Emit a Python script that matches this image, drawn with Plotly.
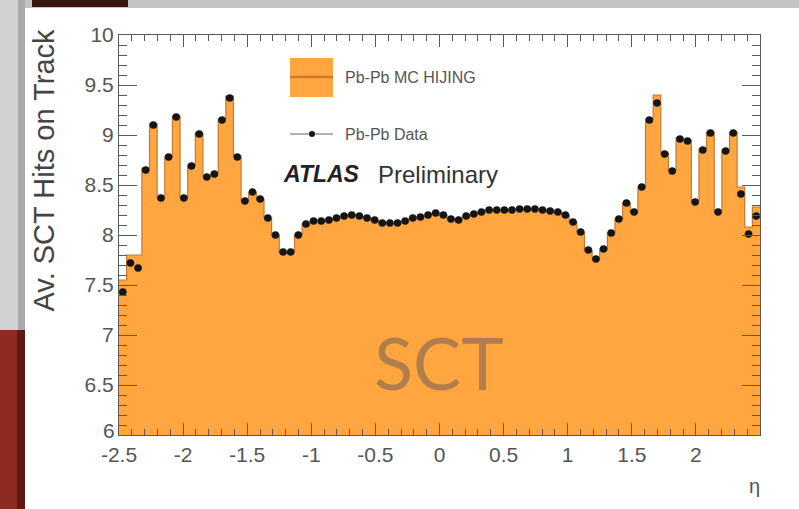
import numpy as np
import plotly.graph_objects as go

# ---------------- data ----------------
eta_min, eta_max, n_bins = -2.5, 2.5, 84

data_hits = [7.43, 7.72, 7.67, 8.65, 9.10, 8.37, 8.78, 9.18, 8.37, 8.69,
             9.01, 8.58, 8.61, 9.15, 9.37, 8.78, 8.34, 8.43, 8.36, 8.17,
             8.00, 7.83, 7.83, 8.00, 8.11, 8.14, 8.14, 8.15, 8.17, 8.19,
             8.20, 8.19, 8.17, 8.15, 8.12, 8.12, 8.12, 8.14, 8.17, 8.18,
             8.20, 8.22, 8.20, 8.16, 8.15, 8.19, 8.21, 8.23, 8.25, 8.25,
             8.25, 8.25, 8.26, 8.26, 8.26, 8.25, 8.24, 8.23, 8.20, 8.13,
             8.03, 7.85, 7.76, 7.86, 8.02, 8.16, 8.32, 8.23, 8.48, 9.15,
             9.32, 8.81, 8.64, 8.96, 8.94, 8.33, 8.85, 9.02, 8.23, 8.84,
             9.02, 8.41, 8.01, 8.19]

mc_hits = [7.55, 7.80, 7.80, 8.67, 9.11, 8.37, 8.78, 9.19, 8.37, 8.70,
           9.02, 8.58, 8.61, 9.16, 9.39, 8.79, 8.34, 8.43, 8.36, 8.17,
           8.00, 7.83, 7.83, 8.00, 8.11, 8.14, 8.14, 8.15, 8.17, 8.19,
           8.20, 8.19, 8.17, 8.15, 8.12, 8.12, 8.12, 8.14, 8.17, 8.18,
           8.20, 8.22, 8.20, 8.16, 8.15, 8.19, 8.21, 8.23, 8.25, 8.25,
           8.25, 8.25, 8.26, 8.26, 8.26, 8.25, 8.24, 8.23, 8.20, 8.13,
           8.03, 7.85, 7.76, 7.86, 8.02, 8.16, 8.32, 8.23, 8.48, 9.16,
           9.40, 8.82, 8.65, 8.97, 8.95, 8.34, 8.86, 9.03, 8.24, 8.85,
           9.03, 8.48, 8.08, 8.28]

x_tick_vals = [-2.5, -2, -1.5, -1, -0.5, 0, 0.5, 1, 1.5, 2]
x_tick_text = ["-2.5", "-2", "-1.5", "-1", "-0.5", "0", "0.5", "1", "1.5", "2"]
y_tick_vals = [6, 6.5, 7, 7.5, 8, 8.5, 9, 9.5, 10]
y_tick_text = ["", "6.5", "7", "7.5", "8", "8.5", "9", "9.5", "10"]
y_bottom_label = "6"

# ---------------- geometry ----------------
W, H = 799, 509
ML, MR, MT, MB = 119, 39, 35, 74
PW, PH = W - ML - MR, H - MT - MB


def px(xp):
    return (xp - ML) / PW


def py(yp):
    return (H - MB - yp) / PH


edges = np.linspace(eta_min, eta_max, n_bins + 1)
centers = 0.5 * (edges[:-1] + edges[1:])
half_w = np.full(n_bins, 0.5 * (edges[1] - edges[0]))

ORANGE = "#FFA641"
ORANGE_LINE = "#C8782C"
FONT = "Liberation Sans, Arial, sans-serif"

fig = go.Figure()

fig.add_trace(go.Scatter(
    x=edges, y=list(mc_hits) + [mc_hits[-1]],
    mode="lines", line=dict(shape="hv", color=ORANGE_LINE, width=1.2),
    fill="tozeroy", fillcolor=ORANGE, hoverinfo="skip", showlegend=False))

fig.add_trace(go.Scatter(
    x=centers, y=data_hits, mode="markers",
    marker=dict(color="#151515", size=7.5, symbol="circle"),
    error_x=dict(type="data", array=half_w, color="#333333", thickness=1, width=0),
    showlegend=False))

axis_common = dict(
    showline=True, linecolor="#5a5a5a", linewidth=1, mirror="allticks",
    ticks="inside", tickcolor="#5a5a5a", showgrid=False, zeroline=False,
    tickfont=dict(family=FONT, size=21, color="#555555"),
)

fig.update_xaxes(range=[eta_min, eta_max], tickvals=x_tick_vals, ticktext=x_tick_text,
                 ticklen=12, ticklabelstandoff=1,
                 minor=dict(ticks="inside", ticklen=6, dtick=0.1, tick0=-2.5, tickcolor="#5a5a5a"),
                 **axis_common)
fig.update_yaxes(range=[6, 10], tickvals=y_tick_vals, ticktext=y_tick_text,
                 ticklen=18, ticklabelstandoff=0,
                 minor=dict(ticks="inside", ticklen=8, dtick=0.1, tick0=6, tickcolor="#5a5a5a"),
                 **axis_common)

shapes = []
# slide decorations (outside plot)
shapes.append(dict(type="rect", xref="paper", yref="paper", x0=px(0), x1=px(W), y0=py(8), y1=py(0),
                   fillcolor="#C4C4C4", line=dict(width=0), layer="below"))
shapes.append(dict(type="rect", xref="paper", yref="paper", x0=px(32), x1=px(128), y0=py(7), y1=py(0),
                   fillcolor="#3B1612", line=dict(width=0), layer="below"))
shapes.append(dict(type="rect", xref="paper", yref="paper", x0=px(0), x1=px(25), y0=py(330), y1=py(0),
                   fillcolor="#D2D2D2", line=dict(width=0), layer="below"))
shapes.append(dict(type="rect", xref="paper", yref="paper", x0=px(18), x1=px(25), y0=py(330), y1=py(0),
                   fillcolor="#A9A9A9", line=dict(width=0), layer="below"))
shapes.append(dict(type="rect", xref="paper", yref="paper", x0=px(0), x1=px(25), y0=py(H), y1=py(330),
                   fillcolor="#8E2B20", line=dict(width=0), layer="below"))
shapes.append(dict(type="rect", xref="paper", yref="paper", x0=px(17), x1=px(25), y0=py(H), y1=py(330),
                   fillcolor="#5C1A13", line=dict(width=0), layer="below"))
# legend symbols
shapes.append(dict(type="rect", xref="paper", yref="paper", x0=px(290), x1=px(333), y0=py(97), y1=py(58),
                   fillcolor=ORANGE, line=dict(width=0)))
shapes.append(dict(type="line", xref="paper", yref="paper", x0=px(290), x1=px(333), y0=py(77), y1=py(77),
                   line=dict(color="#D07A22", width=2.5)))
shapes.append(dict(type="line", xref="paper", yref="paper", x0=px(290), x1=px(333), y0=py(134), y1=py(134),
                   line=dict(color="#999999", width=1.5)))
shapes.append(dict(type="circle", xref="paper", yref="paper", x0=px(309), x1=px(315), y0=py(137), y1=py(131),
                   fillcolor="#151515", line=dict(width=0)))

annotations = [
    dict(text="Pb-Pb MC HIJING", x=px(343), y=py(77), xref="paper", yref="paper",
         xanchor="left", yanchor="middle", showarrow=False,
         font=dict(family=FONT, size=16, color="#555555")),
    dict(text="Pb-Pb Data", x=px(343), y=py(134), xref="paper", yref="paper",
         xanchor="left", yanchor="middle", showarrow=False,
         font=dict(family=FONT, size=16, color="#555555")),
    dict(text="<b><i>ATLAS</i></b>", x=px(281), y=py(174), xref="paper", yref="paper",
         xanchor="left", yanchor="middle", showarrow=False,
         font=dict(family=FONT, size=23, color="#222222")),
    dict(text="Preliminary", x=px(376), y=py(174), xref="paper", yref="paper",
         xanchor="left", yanchor="middle", showarrow=False,
         font=dict(family=FONT, size=24, color="#333333")),
    dict(text="Av. SCT Hits on Track", x=px(43), y=py(27), xref="paper", yref="paper",
         xanchor="center", yanchor="top", textangle=-90, showarrow=False,
         font=dict(family=FONT, size=29, color="#444444")),
    dict(text="η", x=px(754), y=py(486), xref="paper", yref="paper",
         xanchor="center", yanchor="middle", showarrow=False,
         font=dict(family=FONT, size=20, color="#555555")),
    dict(text="SCT", x=px(439), y=py(362), xref="paper", yref="paper",
         xanchor="center", yanchor="middle", showarrow=False,
         font=dict(family="Lato, sans-serif", size=72, color="#B07E4C")),
    # lowest y tick label, nudged up slightly so it does not collide with "-2.5"
    dict(text=y_bottom_label, x=px(116), y=py(430), xref="paper", yref="paper",
         xanchor="right", yanchor="middle", showarrow=False, borderpad=0,
         font=dict(family=FONT, size=21, color="#555555")),
]

fig.update_layout(
    width=W, height=H, margin=dict(l=ML, r=MR, t=MT, b=MB, pad=0),
    paper_bgcolor="white", plot_bgcolor="white",
    shapes=shapes, annotations=annotations, showlegend=False,
)

fig.write_html("out.html", config={"displayModeBar": False},
               post_script="document.body.style.margin='0px';document.body.style.overflow='hidden';")
